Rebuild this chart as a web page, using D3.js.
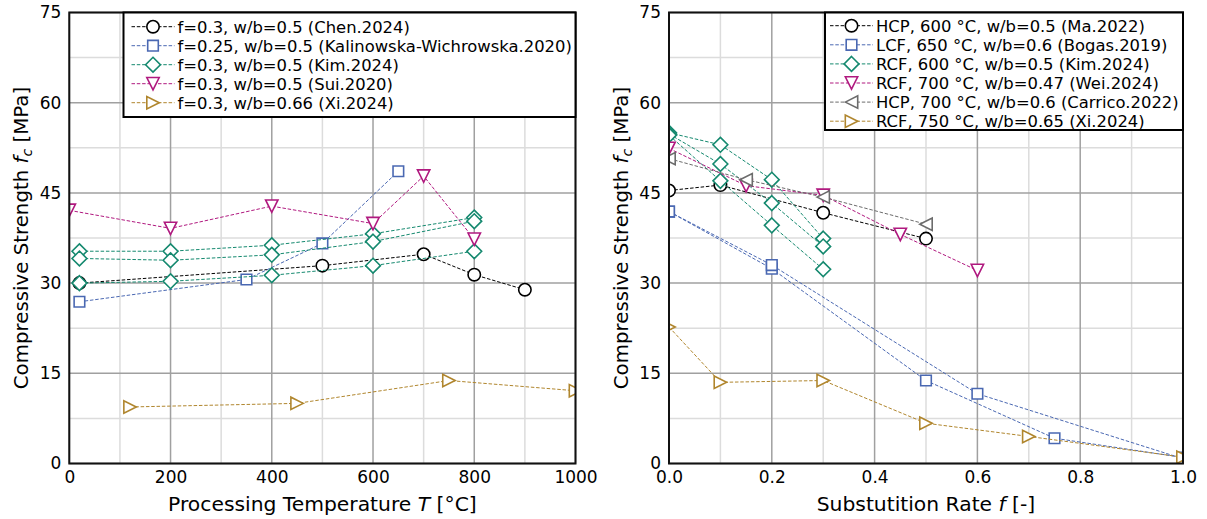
<!DOCTYPE html>
<html><head><meta charset="utf-8">
<script src="https://cdn.jsdelivr.net/npm/d3@7"></script>
<style>
html,body{margin:0;padding:0;background:#fff;}
svg{display:block;font-family:"DejaVu Sans",sans-serif;}
</style></head>
<body>
<svg id="chart" width="1207" height="519"></svg>
<script>
// ---------------- data: left panel (temperature) ----------------
const tempChen = [20, 500, 700, 800, 900];
const fcChen   = [30.0, 32.9, 34.8, 31.4, 28.9];
const tempKal  = [20, 350, 500, 650];
const fcKal    = [26.9, 30.6, 36.6, 48.6];
const tempKim  = [20, 200, 400, 600, 800];
const fcKimA   = [35.3, 35.3, 36.3, 38.2, 40.9];
const fcKimB   = [34.1, 33.8, 34.7, 36.9, 40.3];
const fcKimC   = [30.0, 30.3, 31.3, 32.9, 35.3];
const tempSui  = [0, 200, 400, 600, 700, 800];
const fcSui    = [42.1, 39.1, 42.8, 39.9, 47.8, 37.3];
const tempXi   = [120, 450, 750, 1000];
const fcXi     = [9.4, 10.0, 13.8, 12.1];
const leftLabels = [
  "f=0.3, w/b=0.5 (Chen.2024)",
  "f=0.25, w/b=0.5 (Kalinowska-Wichrowska.2020)",
  "f=0.3, w/b=0.5 (Kim.2024)",
  "f=0.3, w/b=0.5 (Sui.2020)",
  "f=0.3, w/b=0.66 (Xi.2024)"
];
const tempTicks = [0, 200, 400, 600, 800, 1000];

// ---------------- data: right panel (substitution rate) ----------------
const fMa      = [0, 0.1, 0.3, 0.5];
const fcMa     = [45.4, 46.3, 41.7, 37.4];
const fBogas1  = [0, 0.2, 0.5, 0.75, 1.0];
const fcBogas1 = [41.9, 32.4, 13.8, 4.2, 1.0];
const fBogas2  = [0, 0.2, 0.6, 1.0];
const fcBogas2 = [41.9, 33.0, 11.6, 0.8];
const fKim     = [0, 0.1, 0.2, 0.3];
const fcKimR1  = [55.0, 53.0, 47.2, 37.4];
const fcKimR2  = [54.8, 49.8, 43.3, 36.1];
const fcKimR3  = [54.6, 47.0, 39.6, 32.3];
const fWei     = [0, 0.15, 0.3, 0.45, 0.6];
const fcWei    = [52.4, 46.2, 44.6, 38.1, 32.1];
const fCarrico = [0, 0.15, 0.3, 0.5];
const fcCarrico= [50.7, 47.2, 44.3, 39.8];
const fXi      = [0, 0.1, 0.3, 0.5, 0.7, 1.0];
const fcXiR    = [22.7, 13.5, 13.8, 6.7, 4.5, 1.05];
const rightLabels = [
  "HCP, 600 °C, w/b=0.5 (Ma.2022)",
  "LCF, 650 °C, w/b=0.6 (Bogas.2019)",
  "RCF, 600 °C, w/b=0.5 (Kim.2024)",
  "RCF, 700 °C, w/b=0.47 (Wei.2024)",
  "HCP, 700 °C, w/b=0.6 (Carrico.2022)",
  "RCF, 750 °C, w/b=0.65 (Xi.2024)"
];
const fTicks = [0, 0.2, 0.4, 0.6, 0.8, 1.0];
const fcTicks = [0, 15, 30, 45, 60, 75];

// ---------------- styles ----------------
const C = {black:"#000000", blue:"#4a68b2", green:"#15896f", magenta:"#b0197f", gray:"#6c6c6c", gold:"#b0862e"};

function markerPath(shape){
  const p = d3.path();
  if(shape==="circle"){ p.arc(0,0,6.2,0,2*Math.PI); p.closePath(); }
  else if(shape==="square"){ p.rect(-5.3,-5.3,10.6,10.6); }
  else if(shape==="diamond"){ p.moveTo(0,-7.4); p.lineTo(7.4,0); p.lineTo(0,7.4); p.lineTo(-7.4,0); p.closePath(); }
  else if(shape==="tdown"){ p.moveTo(0,6.2); p.lineTo(-6.2,-6.2); p.lineTo(6.2,-6.2); p.closePath(); }
  else if(shape==="tleft"){ p.moveTo(-6.2,0); p.lineTo(6.2,-6.2); p.lineTo(6.2,6.2); p.closePath(); }
  else if(shape==="tright"){ p.moveTo(6.2,0); p.lineTo(-6.2,-6.2); p.lineTo(-6.2,6.2); p.closePath(); }
  return p.toString();
}

const leftSeries = [
  {xs:tempChen, ys:fcChen, color:C.black, shape:"circle"},
  {xs:tempKal,  ys:fcKal,  color:C.blue,  shape:"square"},
  {xs:tempKim,  ys:fcKimA, color:C.green, shape:"diamond"},
  {xs:tempKim,  ys:fcKimB, color:C.green, shape:"diamond"},
  {xs:tempKim,  ys:fcKimC, color:C.green, shape:"diamond"},
  {xs:tempSui,  ys:fcSui,  color:C.magenta, shape:"tdown"},
  {xs:tempXi,   ys:fcXi,   color:C.gold,  shape:"tright"}
];
const leftLegend = [
  {color:C.black, shape:"circle"},{color:C.blue, shape:"square"},{color:C.green, shape:"diamond"},
  {color:C.magenta, shape:"tdown"},{color:C.gold, shape:"tright"}
];
const rightSeries = [
  {xs:fMa, ys:fcMa, color:C.black, shape:"circle"},
  {xs:fBogas1, ys:fcBogas1, color:C.blue, shape:"square"},
  {xs:fBogas2, ys:fcBogas2, color:C.blue, shape:"square"},
  {xs:fKim, ys:fcKimR1, color:C.green, shape:"diamond"},
  {xs:fKim, ys:fcKimR2, color:C.green, shape:"diamond"},
  {xs:fKim, ys:fcKimR3, color:C.green, shape:"diamond"},
  {xs:fWei, ys:fcWei, color:C.magenta, shape:"tdown"},
  {xs:fCarrico, ys:fcCarrico, color:C.gray, shape:"tleft"},
  {xs:fXi, ys:fcXiR, color:C.gold, shape:"tright"}
];
const rightLegend = [
  {color:C.black, shape:"circle"},{color:C.blue, shape:"square"},{color:C.green, shape:"diamond"},
  {color:C.magenta, shape:"tdown"},{color:C.gray, shape:"tleft"},{color:C.gold, shape:"tright"}
];

const svg = d3.select("#chart");
const TOP = 12.5, BOTTOM = 463.5;

function panel(id, x0, x1, xDomain, xTicks, xMinor, xFmt, series, legendItems, labels, legBox, xLabelParts, ylabX){
  const x = d3.scaleLinear().domain(xDomain).range([x0, x1]);
  const y = d3.scaleLinear().domain([0, 75]).range([BOTTOM, TOP]);
  const g = svg.append("g");

  // minor grid
  const yMinor = [7.5, 22.5, 37.5, 52.5, 67.5];
  g.append("g").selectAll("line").data(xMinor).join("line")
    .attr("x1", d=>x(d)).attr("x2", d=>x(d)).attr("y1", TOP).attr("y2", BOTTOM)
    .attr("stroke", "#dcdcdc").attr("stroke-width", 1.5);
  g.append("g").selectAll("line").data(yMinor).join("line")
    .attr("y1", d=>y(d)).attr("y2", d=>y(d)).attr("x1", x0).attr("x2", x1)
    .attr("stroke", "#dcdcdc").attr("stroke-width", 1.5);
  // major grid
  g.append("g").selectAll("line").data(xTicks).join("line")
    .attr("x1", d=>x(d)).attr("x2", d=>x(d)).attr("y1", TOP).attr("y2", BOTTOM)
    .attr("stroke", "#a0a0a0").attr("stroke-width", 1.5);
  g.append("g").selectAll("line").data(fcTicks).join("line")
    .attr("y1", d=>y(d)).attr("y2", d=>y(d)).attr("x1", x0).attr("x2", x1)
    .attr("stroke", "#a0a0a0").attr("stroke-width", 1.5);

  // clip
  svg.append("clipPath").attr("id", "clip"+id).append("rect")
    .attr("x", x0).attr("y", TOP).attr("width", x1-x0).attr("height", BOTTOM-TOP);
  const dg = g.append("g").attr("clip-path", `url(#clip${id})`);
  const line = d3.line().x(d=>x(d[0])).y(d=>y(d[1]));
  series.forEach(s=>{
    const pts = s.xs.map((v,i)=>[v, s.ys[i]]);
    const sg = dg.append("g");
    sg.append("path").attr("d", line(pts)).attr("fill","none").attr("stroke", s.color)
      .attr("stroke-width", 1).attr("stroke-dasharray", "3.5,1.8");
    sg.selectAll("path.m").data(pts).join("path").attr("class","m")
      .attr("d", markerPath(s.shape)).attr("transform", d=>`translate(${x(d[0])},${y(d[1])})`)
      .attr("fill", "#fff").attr("stroke", s.color).attr("stroke-width", 1.6);
  });

  // axes (labels only)
  const ax = g.append("g").attr("transform", `translate(0,${BOTTOM})`)
    .call(d3.axisBottom(x).tickValues(xTicks).tickSize(0).tickPadding(7).tickFormat(xFmt));
  ax.select(".domain").remove();
  ax.selectAll("text").attr("font-size", 17).attr("fill", "#000").attr("font-family", "DejaVu Sans");
  const ay = g.append("g").attr("transform", `translate(${x0},0)`)
    .call(d3.axisLeft(y).tickValues(fcTicks).tickSize(0).tickPadding(8).tickFormat(d3.format("d")));
  ay.select(".domain").remove();
  ay.selectAll("text").attr("font-size", 17).attr("fill", "#000").attr("font-family", "DejaVu Sans");

  // frame
  g.append("rect").attr("x", x0).attr("y", TOP).attr("width", x1-x0).attr("height", BOTTOM-TOP)
    .attr("fill", "none").attr("stroke", "#111").attr("stroke-width", 2);

  // x label
  const xl = g.append("text").attr("x", (x0+x1)/2).attr("y", 510.5).attr("text-anchor", "middle")
    .attr("font-size", 20.3).attr("fill", "#000");
  xl.append("tspan").text(xLabelParts[0]);
  xl.append("tspan").attr("font-style", "italic").text(xLabelParts[1]);
  xl.append("tspan").text(xLabelParts[2]);

  // y label
  const yl = g.append("text").attr("transform", `translate(${ylabX},${(TOP+BOTTOM)/2}) rotate(-90)`)
    .attr("text-anchor", "middle").attr("font-size", 19.8).attr("fill", "#000");
  yl.append("tspan").text("Compressive Strength ");
  yl.append("tspan").attr("font-style", "italic").text("f");
  yl.append("tspan").attr("font-style", "italic").attr("font-size", 14).attr("dy", 4).text("c");
  yl.append("tspan").attr("dy", -4).text(" [MPa]");

  // legend
  const lg = g.append("g");
  lg.append("rect").attr("x", legBox.x).attr("y", legBox.y).attr("width", legBox.w).attr("height", legBox.h)
    .attr("fill", "#fff").attr("stroke", "#000").attr("stroke-width", 2);
  legendItems.forEach((it, i)=>{
    const cy = legBox.row0 + i*legBox.dy;
    lg.append("line").attr("x1", legBox.hx0).attr("x2", legBox.hx0+43).attr("y1", cy).attr("y2", cy)
      .attr("stroke", it.color).attr("stroke-width", 1).attr("stroke-dasharray", "3.5,1.8");
    lg.append("path").attr("d", markerPath(it.shape)).attr("transform", `translate(${legBox.hx0+21.5},${cy})`)
      .attr("fill", "#fff").attr("stroke", it.color).attr("stroke-width", 1.6);
    lg.append("text").attr("x", legBox.hx0+46).attr("y", cy).attr("dy", "0.36em")
      .attr("font-size", 16.4).attr("fill", "#000").text(labels[i]);
  });
}

panel("L", 69.3, 575.5, [0, 1000], tempTicks, [100, 300, 500, 700, 900], d3.format("d"),
  leftSeries, leftLegend, leftLabels,
  {x:123.5, y:12.5, w:452, h:104.5, row0:26.7, dy:19, hx0:131.5},
  ["Processing Temperature ", "T", " [°C]"], 28);

panel("R", 669, 1183, [0, 1], fTicks, [0.1, 0.3, 0.5, 0.7, 0.9], d3.format(".1f"),
  rightSeries, rightLegend, rightLabels,
  {x:825, y:12.5, w:358, h:117.5, row0:25.7, dy:19.1, hx0:830},
  ["Substutition Rate ", "f", " [-]"], 628);
</script>
</body></html>
